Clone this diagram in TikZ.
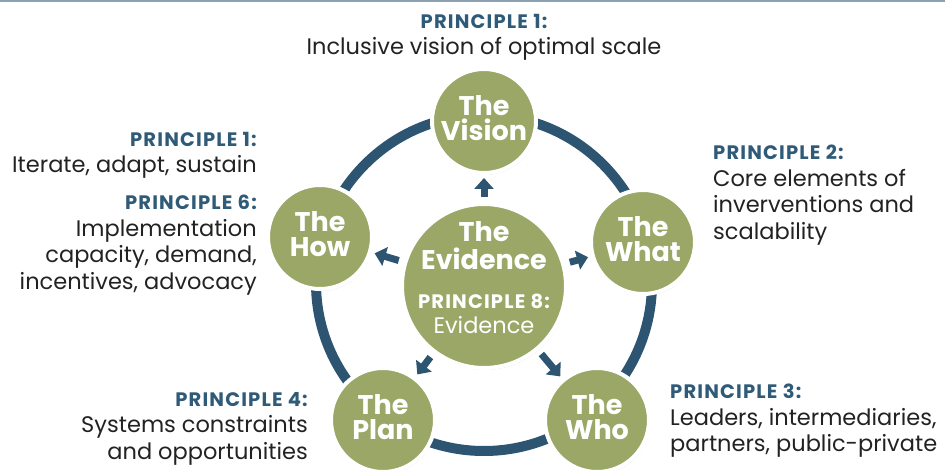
\documentclass[tikz,border=0pt]{standalone}
\usepackage{fontspec}
\setmainfont{Poppins}
\usetikzlibrary{arrows.meta,shadows,backgrounds}
\definecolor{leaf}{HTML}{9AA767}
\definecolor{ringblue}{HTML}{2D5571}
\definecolor{tagblue}{HTML}{2F5B78}
\definecolor{ink}{HTML}{222222}
\newcommand\tagline[1]{{\fontsize{19.5}{26.5}\selectfont\bfseries\addfontfeatures{LetterSpace=6}\color{tagblue}#1}}
\begin{document}
\begin{tikzpicture}[x=1pt,y=-1pt,
  stage/.style={circle,fill=leaf,draw=white,line width=4pt,minimum size=104pt,
    inner sep=0pt,text=white,align=center,text depth=6pt,font=\fontsize{27}{25}\selectfont\bfseries,
    drop shadow={opacity=.18,shadow xshift=1pt,shadow yshift=-2pt}},
  note/.style={inner sep=0pt,text=ink,font=\fontsize{22.5}{26.5}\selectfont},
  ringline/.style={ringblue,line width=10pt},
  push/.style={ringblue,line width=7pt,-{Triangle[width=19pt,length=11pt]},shorten <=5pt,shorten >=3pt}]
\useasboundingbox (0,0) rectangle (945,470);
\draw[ringblue!55!white,line width=2pt] (0,1) -- (945,1);
% the stages round the loop
\coordinate (hub) at (484,283);
\node[stage] (vision) at (484,121) {The\\Vision};
\node[stage] (what) at (643,242) {The\\What};
\node[stage] (who) at (597,420) {The\\Who};
\node[stage] (plan) at (383,420) {The\\Plan};
\node[stage] (how) at (320,237) {The\\How};
\node[stage,minimum size=164pt] (evidence) at (484,286) {};
\node[text=white,align=center,inner sep=0pt,font=\fontsize{27}{28}\selectfont\bfseries] (evhead) at (484,246) {The\\Evidence};
\node[text=white,align=center,inner sep=0pt,font=\fontsize{22.5}{25}\selectfont] (evnote) at (484,314) {{\fontsize{19.5}{25}\selectfont\bfseries\addfontfeatures{LetterSpace=6}PRINCIPLE 8:}\\Evidence};
\begin{scope}[on background layer]
\draw[ringline] (hub) circle[radius=168pt];
\end{scope}
\foreach \s in {vision,what,who,plan,how}
  \draw[push] (evidence) -- (\s);
% principles
\node[note,align=center,anchor=north] (pvision) at (484,14) {\tagline{PRINCIPLE 1:}\\Inclusive vision of optimal scale};
\node[note,align=right,anchor=north east] (piterate) at (257,132) {\tagline{PRINCIPLE 1:}\\Iterate, adapt, sustain};
\node[note,align=right,anchor=north east] (phow) at (257,195) {\tagline{PRINCIPLE 6:}\\Implementation\\capacity, demand,\\incentives, advocacy};
\node[note,align=left,anchor=north west] (pwhat) at (713,145) {\tagline{PRINCIPLE 2:}\\Core elements of\\inverventions and\\scalability};
\node[note,align=left,anchor=north west] (pwho) at (670,384) {\tagline{PRINCIPLE 3:}\\Leaders, intermediaries,\\partners, public-private};
\node[note,align=right,anchor=north east] (pplan) at (308,392) {\tagline{PRINCIPLE 4:}\\Systems constraints\\and opportunities};
\end{tikzpicture}
\end{document}
